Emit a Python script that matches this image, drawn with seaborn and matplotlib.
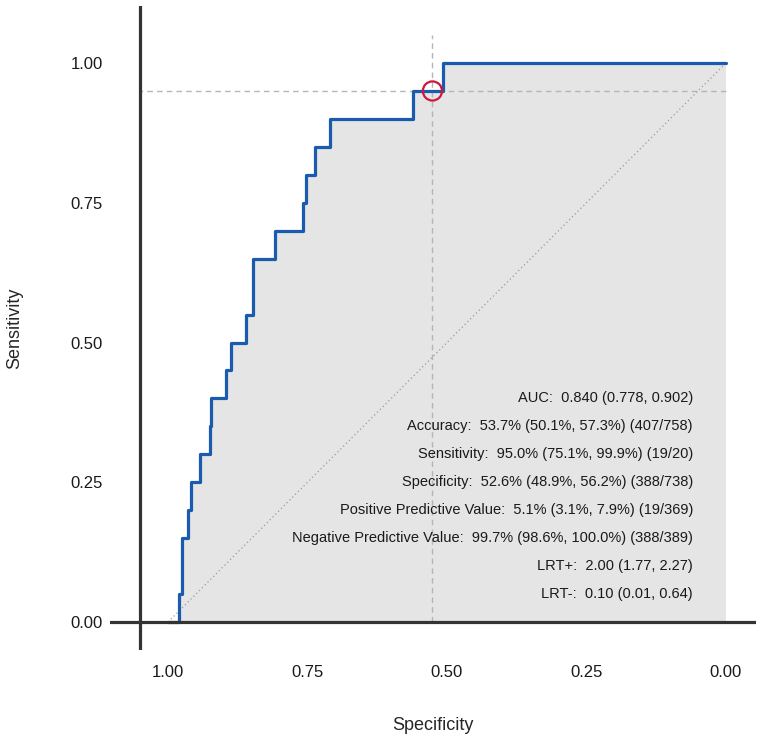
import numpy as np
import matplotlib
matplotlib.use("Agg")
import matplotlib.pyplot as plt
import seaborn as sns

# ROC curve corner points (specificity, sensitivity), drawn as post-steps
specificity = [1.000, 0.980, 0.975, 0.964, 0.959, 0.943, 0.925, 0.923, 0.896, 0.887,
               0.860, 0.848, 0.808, 0.758, 0.753, 0.737, 0.710, 0.561, 0.507, 0.000]
sensitivity = [0.00, 0.05, 0.15, 0.20, 0.25, 0.30, 0.35, 0.40, 0.45, 0.50,
               0.55, 0.65, 0.70, 0.75, 0.80, 0.85, 0.90, 0.95, 1.00, 1.00]

# chance line
chance_spec = [1.0, 0.0]
chance_sens = [0.0, 1.0]

# chosen cut-off
cutoff_spec = 0.526
cutoff_sens = 0.95

tick_values = [1.00, 0.75, 0.50, 0.25, 0.00]
tick_labels = ["1.00", "0.75", "0.50", "0.25", "0.00"]

stat_lines = [
    "AUC:  0.840 (0.778, 0.902)",
    "Accuracy:  53.7% (50.1%, 57.3%) (407/758)",
    "Sensitivity:  95.0% (75.1%, 99.9%) (19/20)",
    "Specificity:  52.6% (48.9%, 56.2%) (388/738)",
    "Positive Predictive Value:  5.1% (3.1%, 7.9%) (19/369)",
    "Negative Predictive Value:  99.7% (98.6%, 100.0%) (388/389)",
    "LRT+:  2.00 (1.77, 2.27)",
    "LRT-:  0.10 (0.01, 0.64)",
]

sns.set_style("white")
plt.rcParams["font.family"] = ["Liberation Sans", "DejaVu Sans"]

fig = plt.figure(figsize=(7.6, 7.38), dpi=100)
ax = fig.add_axes([110 / 760, 88 / 738, 646 / 760, 644 / 738])

# shaded area under the curve
ax.fill_between(specificity, 0, sensitivity, step="post", color="#e5e5e5", lw=0, zorder=1)

# chance diagonal
ax.plot(chance_spec, chance_sens, color="#9a9a9a", lw=0.9, ls=(0, (1, 2.2)), zorder=2)

# cut-off reference lines
ax.hlines(cutoff_sens, 0, 1.05, color="#b5b5b5", lw=1.0, ls=(0, (4, 3)), zorder=2)
ax.vlines(cutoff_spec, 0, 1.05, color="#b5b5b5", lw=1.0, ls=(0, (4, 3)), zorder=2)

sns.lineplot(x=specificity, y=sensitivity, sort=False, estimator=None,
             drawstyle="steps-post", color="#1a5bb0", lw=2.3, ax=ax, zorder=4)

# axis lines (drawn over the curve's flat start)
ax.axhline(0, color="#333333", lw=2.3, zorder=4.5)
ax.axvline(1.05, color="#333333", lw=2.3, zorder=4.5)

ax.scatter([cutoff_spec], [cutoff_sens], s=190, facecolors="none",
           edgecolors="#d0163c", linewidths=1.6, zorder=5)

for i, line in enumerate(stat_lines):
    ax.text(0.059, 0.40 - 0.05 * i, line, ha="right", va="center",
            fontsize=10.5, color="#1a1a1a", zorder=6)

ax.set_xlim(1.104, -0.054)
ax.set_ylim(-0.050, 1.102)
ax.set_xticks(tick_values)
ax.set_xticklabels(tick_labels)
ax.set_yticks(tick_values)
ax.set_yticklabels(tick_labels)
ax.tick_params(axis="both", length=0, labelsize=12, labelcolor="#1a1a1a")
ax.tick_params(axis="x", pad=11)
ax.tick_params(axis="y", pad=5)
for s in ax.spines.values():
    s.set_visible(False)

ax.set_xlabel("Specificity", fontsize=13)
ax.set_ylabel("Sensitivity", fontsize=13)
ax.xaxis.set_label_coords(0.5, -0.104)
ax.yaxis.set_label_coords(-0.135, 0.5)

fig.savefig("out.png", dpi=100)
